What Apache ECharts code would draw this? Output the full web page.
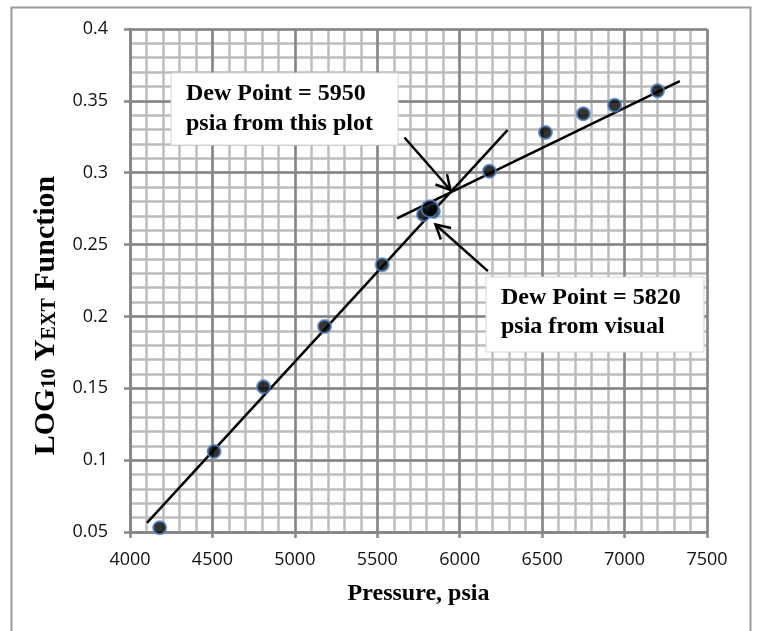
<!DOCTYPE html>
<html>
<head>
<meta charset="utf-8" />
<title>Dew point plot</title>
<script src="https://cdn.jsdelivr.net/npm/echarts@6/dist/echarts.min.js"></script>
<style>
  html, body { margin: 0; padding: 0; background: #fff; }
  #main { width: 757px; height: 631px; }
</style>
</head>
<body>
<div id="main"></div>
<script>
// measured points (pressure, log10 Y function)
const pressure = [4180, 4510, 4810, 5180, 5530, 6180, 6520, 6750, 6940, 7200];
const logY = [0.053, 0.106, 0.151, 0.193, 0.236, 0.301, 0.328, 0.341, 0.347, 0.357];

// overlapping points near the dew point
const clusterP = [5780, 5840, 5820];
const clusterY = [0.271, 0.273, 0.275];

// hand-drawn fit lines [x0, y0, x1, y1]
const steepLine = [4103, 0.0563, 6290, 0.3296];
const flatLine = [5620, 0.2683, 7335, 0.3638];

// arrows [fromX, fromY, toX, toY]
const arrows = [
    [5665, 0.3245, 5944, 0.288],
    [6171, 0.2315, 5853, 0.264]
];

const xTicks = [4000, 4500, 5000, 5500, 6000, 6500, 7000, 7500];
const yTicks = [0.05, 0.1, 0.15, 0.2, 0.25, 0.3, 0.35, 0.4];

const notes = ['Dew Point = 5950\npsia from this plot', 'Dew Point = 5820\npsia from visual'];

let chart = echarts.init(document.getElementById('main'));

const serif = '"Liberation Serif", "Times New Roman", serif';
const sans = '"Open Sans", sans-serif';

const xMin = xTicks[0], xMax = xTicks[xTicks.length - 1];
const yMin = yTicks[0], yMax = yTicks[yTicks.length - 1];

// arrow with open V head, drawn in data coordinates
function drawArrow(params, api) {
    const a = api.coord([api.value(0), api.value(1)]);
    const b = api.coord([api.value(2), api.value(3)]);
    const ang = Math.atan2(b[1] - a[1], b[0] - a[0]);
    const L = 16, w = 0.5;
    const h1 = [b[0] - L * Math.cos(ang - w), b[1] - L * Math.sin(ang - w)];
    const h2 = [b[0] - L * Math.cos(ang + w), b[1] - L * Math.sin(ang + w)];
    return {
        type: 'group',
        children: [
            {type: 'line', shape: {x1: a[0], y1: a[1], x2: b[0], y2: b[1]}, style: {stroke: '#000', lineWidth: 2.5}},
            {type: 'polyline', shape: {points: [h1, b, h2]}, style: {stroke: '#000', lineWidth: 2.5, fill: null}}
        ]
    };
}

const dotStyle = {color: '#000', borderColor: '#4f81bd', borderWidth: 2};

let option = {
    animation: false,
    backgroundColor: '#fff',
    grid: {left: 130, right: 50, top: 29, bottom: 99},
    xAxis: [
        {
            type: 'value', min: xMin, max: xMax, interval: 500, z: 1,
            axisLine: {show: true, lineStyle: {color: '#868686', width: 2.5}},
            axisTick: {show: true, length: 6, lineStyle: {color: '#868686', width: 2.5}},
            splitLine: {show: true, lineStyle: {color: '#868686', width: 2.5}},
            axisLabel: {margin: 19, color: '#111', fontFamily: sans, fontSize: 18, formatter: v => String(v)},
            name: 'Pressure, psia', nameLocation: 'middle', nameGap: 50,
            nameTextStyle: {fontFamily: serif, fontWeight: 'bold', fontSize: 24, color: '#000'}
        },
        {
            type: 'value', min: xMin, max: xMax, interval: 100, z: 0,
            axisLine: {show: false}, axisTick: {show: false}, axisLabel: {show: false},
            splitLine: {show: true, lineStyle: {color: '#bdbdbd', width: 2.5}}
        }
    ],
    yAxis: [
        {
            type: 'value', min: yMin, max: yMax, interval: 0.05, z: 1,
            axisLine: {show: true, lineStyle: {color: '#868686', width: 2.5}},
            axisTick: {show: true, length: 6, lineStyle: {color: '#868686', width: 2.5}},
            splitLine: {show: true, lineStyle: {color: '#868686', width: 2.5}},
            axisLabel: {margin: 22, color: '#111', fontFamily: sans, fontSize: 18,
                formatter: v => String(+v.toFixed(2))},
            name: '{a|LOG}{s|10}{a| Y}{s|EXT}{a| Function}',
            nameLocation: 'middle', nameGap: 57, nameRotate: 90,
            nameTextStyle: {
                padding: [0, 70, 0, 0],
                rich: {
                    a: {fontFamily: serif, fontWeight: 'bold', fontSize: 30, color: '#000', lineHeight: 32, verticalAlign: 'bottom'},
                    s: {fontFamily: serif, fontWeight: 'bold', fontSize: 20, color: '#000', lineHeight: 32, verticalAlign: 'bottom', padding: [0, 0, 2, 0]}
                }
            }
        },
        {
            type: 'value', min: yMin, max: yMax, interval: 0.01, z: 0,
            axisLine: {show: false}, axisTick: {show: false}, axisLabel: {show: false},
            splitLine: {show: true, lineStyle: {color: '#bdbdbd', width: 2.5}}
        }
    ],
    graphic: [
        {type: 'rect', z: 0, silent: true, shape: {x: 11.5, y: 7.5, width: 739, height: 650},
            style: {fill: null, stroke: '#9a9a9a', lineWidth: 2}},
        {type: 'rect', z: 10, shape: {x: 171, y: 73, width: 227, height: 72},
            style: {fill: '#fff', stroke: '#d4d4d4', lineWidth: 1}},
        {type: 'text', z: 11, style: {text: notes[0], x: 186, y: 78.5, font: 'bold 24px ' + serif,
            lineHeight: 30, verticalAlign: 'top', fill: '#000'}},
        {type: 'rect', z: 10, shape: {x: 486, y: 277, width: 218, height: 75},
            style: {fill: '#fff', stroke: '#d4d4d4', lineWidth: 1}},
        {type: 'text', z: 11, style: {text: notes[1], x: 501, y: 283, font: 'bold 24px ' + serif,
            lineHeight: 29, verticalAlign: 'top', fill: '#000'}}
    ],
    series: [
        {
            type: 'line', data: [[steepLine[0], steepLine[1]], [steepLine[2], steepLine[3]]],
            showSymbol: false, symbol: 'none', lineStyle: {color: '#000', width: 2.5}, z: 3
        },
        {
            type: 'line', data: [[flatLine[0], flatLine[1]], [flatLine[2], flatLine[3]]],
            showSymbol: false, symbol: 'none', lineStyle: {color: '#000', width: 2.5}, z: 3
        },
        {
            type: 'scatter', data: pressure.map((p, i) => [p, logY[i]]),
            symbolSize: 13, itemStyle: dotStyle, z: 4
        },
        {
            type: 'scatter', data: clusterP.map((p, i) => [p, clusterY[i]]),
            symbolSize: (v, p) => p.dataIndex === 2 ? 17 : 13, itemStyle: dotStyle, z: 4
        },
        {
            type: 'custom', renderItem: drawArrow, data: arrows,
            encode: {x: [0, 2], y: [1, 3]}, z: 5
        }
    ]
};

chart.setOption(option);
</script>
</body>
</html>
